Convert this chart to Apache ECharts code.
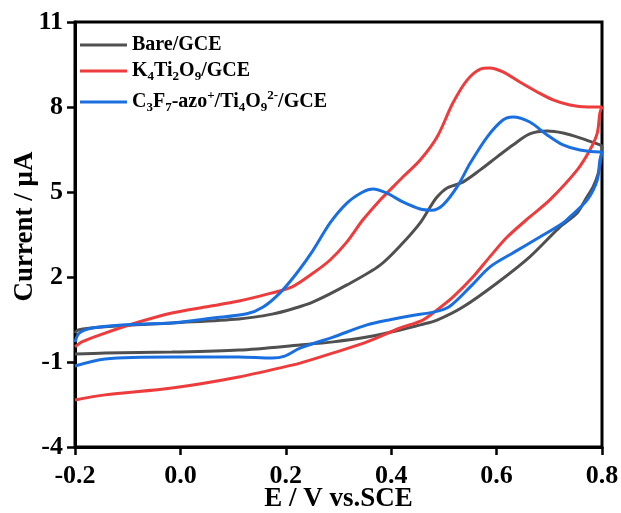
<!DOCTYPE html>
<html>
<head>
<meta charset="utf-8">
<script src="https://cdn.jsdelivr.net/npm/echarts@6/dist/echarts.min.js"></script>
<style>
  html, body { margin: 0; padding: 0; background: #fff; }
  #chart { width: 621px; height: 513px; }
</style>
</head>
<body>
<div id="chart"></div>
<script>
// potential (V vs. SCE), current (uA) pairs
const bareForward = [[-0.2, 0.02], [-0.194, 0.13], [-0.143, 0.24], [-0.016, 0.38], [0.111, 0.52], [0.174, 0.69], [0.212, 0.87], [0.252, 1.12], [0.316, 1.72], [0.379, 2.42], [0.422, 3.2], [0.455, 3.91], [0.474, 4.47], [0.487, 4.82], [0.506, 5.14], [0.536, 5.35], [0.569, 5.78], [0.601, 6.24], [0.631, 6.66], [0.663, 7.05], [0.696, 7.15], [0.726, 7.08], [0.758, 6.91], [0.796, 6.66], [0.8, 6.62]];
const bareReverse = [[0.8, 6.62], [0.798, 6.13], [0.792, 5.6], [0.783, 5.18], [0.768, 4.72], [0.753, 4.26], [0.72, 3.76], [0.663, 2.71], [0.601, 1.79], [0.536, 0.94], [0.487, 0.48], [0.455, 0.31], [0.417, 0.13], [0.354, -0.12], [0.29, -0.29], [0.227, -0.4], [0.111, -0.58], [-0.016, -0.65], [-0.143, -0.68], [-0.2, -0.72]];
const k4Forward = [[-0.2, -0.47], [-0.187, -0.29], [-0.143, 0.02], [-0.079, 0.41], [-0.016, 0.73], [0.047, 0.94], [0.111, 1.15], [0.174, 1.44], [0.212, 1.65], [0.252, 2.14], [0.284, 2.6], [0.316, 3.24], [0.346, 4.01], [0.379, 4.72], [0.392, 4.96], [0.422, 5.53], [0.455, 6.13], [0.487, 6.94], [0.517, 8.14], [0.544, 8.95], [0.569, 9.34], [0.587, 9.38], [0.612, 9.24], [0.644, 8.88], [0.677, 8.53], [0.707, 8.25], [0.739, 8.07], [0.772, 8.0], [0.8, 8.0]];
const k4Reverse = [[0.8, 8.0], [0.796, 7.79], [0.791, 7.08], [0.777, 6.48], [0.753, 5.78], [0.701, 4.72], [0.663, 4.12], [0.62, 3.41], [0.587, 2.71], [0.555, 2.0], [0.517, 1.29], [0.487, 0.84], [0.46, 0.48], [0.417, 0.2], [0.354, -0.29], [0.29, -0.68], [0.227, -1.04], [0.212, -1.11], [0.111, -1.53], [-0.016, -1.92], [-0.143, -2.16], [-0.2, -2.34]];
const azoForward = [[-0.2, -0.3], [-0.192, 0.02], [-0.168, 0.2], [-0.111, 0.31], [-0.016, 0.38], [0.062, 0.55], [0.126, 0.7], [0.157, 0.94], [0.189, 1.44], [0.221, 2.14], [0.252, 2.95], [0.284, 3.91], [0.316, 4.61], [0.346, 5.0], [0.365, 5.11], [0.392, 4.96], [0.422, 4.65], [0.455, 4.4], [0.477, 4.36], [0.498, 4.54], [0.525, 5.18], [0.55, 6.02], [0.582, 6.94], [0.612, 7.54], [0.631, 7.65], [0.663, 7.47], [0.696, 7.01], [0.726, 6.66], [0.758, 6.48], [0.796, 6.41], [0.8, 6.41]];
const azoReverse = [[0.8, 6.41], [0.796, 6.13], [0.791, 5.42], [0.772, 4.72], [0.739, 4.12], [0.726, 3.91], [0.682, 3.41], [0.631, 2.85], [0.587, 2.35], [0.55, 1.65], [0.51, 0.95], [0.48, 0.76], [0.44, 0.64], [0.4, 0.5], [0.354, 0.31], [0.29, -0.12], [0.227, -0.51], [0.198, -0.79], [0.174, -0.86], [0.111, -0.82], [-0.016, -0.82], [-0.143, -0.89], [-0.2, -1.14]];

const seriesNames = ['Bare/GCE', 'K4Ti2O9/GCE', 'C3F7-azo+/Ti4O92-/GCE'];
const seriesColors = ['#505050', '#ee3b3b', '#1a6fe0'];
const yTicks = [-4, -1, 2, 5, 8, 11];

const legendLabels = {
    'Bare/GCE': '{t|Bare/GCE}',
    'K4Ti2O9/GCE': '{t|K}{s|4}{t|Ti}{s|2}{t|O}{s|9}{t|/GCE}',
    'C3F7-azo+/Ti4O92-/GCE': '{t|C}{s|3}{t|F}{s|7}{t|-azo}{p|+}{t|/Ti}{s|4}{t|O}{s|9}{p|2-}{t|/GCE}'
};

const font = 'Liberation Serif, Times New Roman, serif';
const curves = [bareForward.concat(bareReverse), k4Forward.concat(k4Reverse), azoForward.concat(azoReverse)];

const chart = echarts.init(document.getElementById('chart'));
chart.setOption({
    animation: false,
    grid: {
        left: 75, right: 19, top: 22, bottom: 66,
        outerBoundsMode: 'none',
        show: true, borderColor: '#000', borderWidth: 3
    },
    legend: {
        orient: 'vertical',
        left: 75, top: 30,
        icon: 'rect',
        itemWidth: 47, itemHeight: 3, itemGap: 6,
        data: seriesNames,
        formatter: (name) => legendLabels[name],
        textStyle: {
            rich: {
                t: { fontFamily: font, fontWeight: 'bold', fontSize: 20, color: '#000' },
                s: { fontFamily: font, fontWeight: 'bold', fontSize: 13, color: '#000', padding: [12, 0, 0, 0] },
                p: { fontFamily: font, fontWeight: 'bold', fontSize: 13, color: '#000', padding: [0, 0, 12, 0] }
            }
        }
    },
    xAxis: {
        type: 'value',
        min: -0.2, max: 0.8, interval: 0.2,
        name: 'E / V vs.SCE',
        nameLocation: 'middle', nameGap: 39, nameMoveOverlap: false,
        nameTextStyle: { fontFamily: font, fontWeight: 'bold', fontSize: 27, color: '#000' },
        axisLine: { onZero: false, lineStyle: { color: '#000', width: 3 } },
        axisTick: { show: true, length: 8, lineStyle: { width: 2.5, color: '#000' } },
        axisLabel: {
            margin: 16,
            fontFamily: font, fontWeight: 'bold', fontSize: 26, color: '#000',
            formatter: (v) => v.toFixed(1)
        },
        splitLine: { show: false }
    },
    yAxis: {
        type: 'value',
        min: -4, max: 11,
        name: 'Current / μA',
        nameLocation: 'middle', nameGap: 36, nameMoveOverlap: false,
        nameTextStyle: { fontFamily: font, fontWeight: 'bold', fontSize: 27, color: '#000', padding: [0, 0, 0, 16] },
        axisLine: { onZero: false, lineStyle: { color: '#000', width: 3 } },
        axisTick: { show: true, customValues: yTicks, length: 8, lineStyle: { width: 2.5, color: '#000' } },
        axisLabel: {
            customValues: yTicks, margin: 12,
            fontFamily: font, fontWeight: 'bold', fontSize: 26, color: '#000'
        },
        splitLine: { show: false }
    },
    series: curves.map((data, i) => ({
        name: seriesNames[i],
        type: 'line',
        data: data,
        smooth: 0.3,
        symbol: 'none',
        color: seriesColors[i],
        lineStyle: { width: 3, color: seriesColors[i] }
    }))
});
</script>
</body>
</html>
